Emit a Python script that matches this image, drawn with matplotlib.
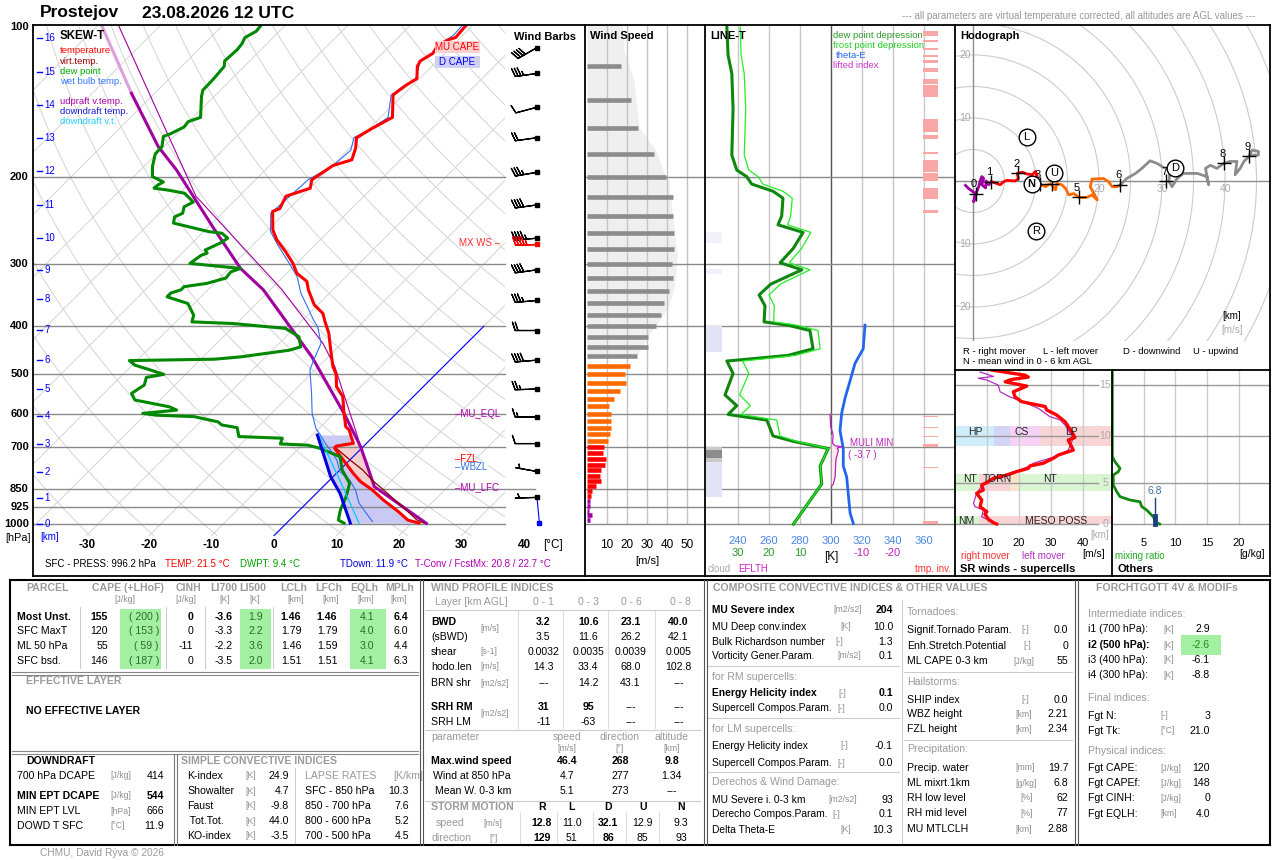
"""Prostejov sounding 23.08.2026 12 UTC: skew-T, side panels and index tables."""

import numpy as np
import matplotlib

matplotlib.use("Agg")
import matplotlib.pyplot as plt
from matplotlib.lines import Line2D
from matplotlib.patches import Rectangle, Circle

plt.rcParams["font.family"] = ["Liberation Sans", "DejaVu Sans"]

W, H = 1280, 860
SKEW = 34.6  # °C of skew per ln(p) unit

# ---------------------------------------------------------------- skew-T data
temp_p = [99, 105, 106, 109, 113, 117, 120, 127, 131, 137, 152, 154, 160, 167, 175, 185, 190, 197,
          203, 211, 219, 232, 235, 256, 268, 283, 299, 313, 325, 338, 362, 377, 392, 413, 443, 482,
          500, 529, 554, 599, 637, 647, 672, 688, 697, 704, 721, 755, 791, 822, 854, 895, 945, 982, 996]
temp_t = [-51.1, -50.8, -51.6, -52.4, -51.9, -52.7, -52.3, -50.4, -51.1, -51.6, -48.1, -48.5, -49.6,
          -50.6, -49.1, -47.8, -49.9, -50.5, -51.0, -49.9, -52.5, -51.5, -52.2, -49.2, -47.0, -43.7,
          -40.6, -38.4, -35.5, -33.9, -30.6, -27.8, -26.1, -23.7, -21.0, -17.7, -15.9, -13.9, -11.3,
          -8.4, -6.0, -4.9, -3.2, -2.1, -4.4, -4.3, -2.9, -0.1, 2.7, 5.2, 8.4, 11.8, 16.1, 18.9, 21.2]

dew_p = [99, 102, 105, 108, 111, 117, 120, 127, 134, 138, 152, 155, 159, 164, 166, 174, 180, 191, 200,
         205, 208, 211, 213, 216, 225, 230, 237, 241, 248, 258, 260, 266, 272, 281, 285, 288, 299, 306,
         311, 320, 328, 333, 338, 343, 349, 360, 380, 392, 395, 404, 420, 440, 447, 461, 466, 469, 479,
         490, 500, 507, 525, 546, 563, 581, 590, 599, 604, 608, 623, 632, 640, 667, 672, 690, 694, 704,
         732, 779, 828, 881, 937, 982, 996]
dew_t = [-83.9, -83.7, -84.5, -84.0, -83.8, -84.0, -83.2, -82.9, -82.8, -82.0, -78.8, -80.1, -79.9,
         -81.0, -81.7, -80.3, -80.2, -78.6, -77.0, -74.4, -74.8, -74.9, -72.2, -69.2, -66.4, -67.1,
         -66.3, -67.0, -66.2, -59.2, -56.8, -55.1, -55.5, -56.8, -56.0, -56.6, -57.1, -48.2, -49.2,
         -49.0, -51.2, -54.3, -54.3, -55.4, -55.4, -51.0, -48.2, -47.4, -40.6, -31.4, -27.9, -26.0,
         -27.3, -34.0, -37.8, -51.2, -49.6, -46.3, -43.5, -45.8, -44.9, -45.6, -44.0, -37.4, -35.7,
         -40.6, -38.2, -31.9, -27.2, -26.1, -23.2, -21.5, -14.3, -13.7, -9.1, -6.7, -2.1, 0.4, 3.7,
         5.3, 6.5, 7.8, 9.2]

wb_p = [99, 104, 109, 113, 117, 128, 132, 137, 152, 154, 161, 167, 177, 190, 203, 237, 258, 275, 299,
        318, 343, 368, 389, 401, 433, 468, 490, 546, 599, 642, 667, 688, 710, 743, 785, 816, 854, 908,
        952, 989]
wb_t = [-51.7, -51.5, -52.4, -52.0, -52.7, -50.4, -51.4, -51.9, -48.8, -49.0, -49.8, -51.0, -49.5,
        -49.9, -51.6, -52.2, -49.3, -45.9, -41.2, -37.8, -34.6, -31.0, -28.2, -26.5, -23.3, -21.8,
        -20.8, -16.8, -13.5, -10.5, -8.3, -6.6, -4.7, -2.1, 0.3, 3.2, 5.7, 8.4, 11.2, 13.5]

vt_p = [699, 743, 779, 816, 854, 908, 982, 996]
vt_t = [-4.6, 0.0, 3.7, 6.8, 10.2, 14.7, 20.4, 22.0]

up_p = [136, 174, 194, 252, 306, 338, 461, 599, 699, 841, 997]
up_t = [-93.7, -80.9, -74.2, -59.4, -48.2, -41.1, -22.6, -8.4, -0.4, 8.2, 22.4]
up_top_p = [99, 136]
up_top_t = [-109.5, -93.7]
up2_p = [99, 160, 219, 338, 354, 433, 482, 647, 699]
up2_t = [-106.8, -82.7, -66.9, -38.1, -35.3, -23.0, -17.4, -3.9, -0.4]

dd_p = [662, 803, 868, 996]
dd_t = [-9.2, -0.4, 3.8, 10.2]
ddv_p = [667, 803, 996]
ddv_t = [-8.6, 0.8, 11.6]

km_levels = [0, 1, 2, 3, 4, 5, 6, 7, 8, 9, 10, 11, 12, 13, 14, 15, 16]
km_press = [1000, 887, 786, 690, 606, 535, 468, 407, 353, 308, 266, 228, 195, 167, 143.5, 123, 105]

press_levels = [200, 300, 400, 500, 600, 700, 850, 925, 1000]
temp_ticks = [-30, -20, -10, 0, 10, 20, 30, 40]

barb_p = [110, 124, 145, 167, 196, 228, 266, 308, 355, 408, 468, 535, 609, 689, 784, 884]
barb_spd = [40, 35, 10, 20, 35, 40, 45, 40, 35, 20, 40, 25, 15, 10, 5, 5]
barb_dir = [240, 262, 255, 262, 260, 262, 265, 262, 265, 270, 265, 268, 270, 270, 280, 268]
mxws_p, mxws_spd, mxws_dir = 273, 46.4, 268

# ---------------------------------------------------------------- wind speed panel
ws_p = [120, 140, 160, 180, 200, 220, 240, 260, 280, 300, 320, 340, 360, 380, 400, 420, 440, 460,
        480, 500, 520, 540, 560, 580, 600, 620, 640, 660, 680, 700, 720, 740, 760, 780, 800, 820,
        840, 860, 880, 900, 920, 940, 960, 980]
ws_v = [17, 22, 25.5, 33.5, 39.5, 43, 43, 43.5, 43.5, 42.5, 43, 41, 38.5, 37, 34.5, 30.5, 30.5, 25,
        21.5, 19, 19.5, 16.5, 13.5, 11, 12, 12, 12, 11.5, 10.5,
        8.5, 8, 9.5, 9, 7, 6.5, 7, 4.5, 2.5, 2, 1.5, 1.5, 1, 2.5, 1.5]
shade_p = [99, 112, 128, 159, 176, 198, 204, 245, 284, 310, 335, 364, 401, 415, 458, 466]
shade_v = [17.5, 18.5, 23.5, 26, 34, 39, 41, 43, 45, 44.5, 43.5, 41, 34, 31, 25, 0]

# ---------------------------------------------------------------- LINE-T panel
ddep_p = [100, 114, 124, 146, 181, 194, 200, 207, 214, 221, 240, 250, 259, 279, 298, 308, 329, 346,
          364, 392, 398, 408, 444, 458, 470, 498, 550, 578, 602, 618, 665, 682, 705, 764, 831, 1000]
ddep_v = [33.6, 33.2, 32.0, 31.6, 32.0, 30.4, 27.2, 25.6, 18.7, 15.5, 15.9, 17.1, 9.0, 12.2, 16.4,
          9.4, 19.4, 23.2, 21.3, 21.6, 14.0, 6.8, 5.8, 14.0, 33.6, 31.6, 34.2, 30.4, 33.2, 20.7,
          18.7, 12.1, 0.9, 3.5, 3.0, 12.1]
fdep_v = [29.3, 29.0, 28.0, 27.5, 28.0, 26.5, 23.5, 22.0, 15.5, 12.5, 13.0, 14.0, 6.5, 9.5, 13.5,
          6.8, 16.3, 20.0, 18.3, 18.5, 11.0, 4.2, 3.5, 11.5, 28.5, 26.5, 29.5, 26.0, 29.0, 17.5,
          16.5, 11.0, 0.9, 3.5, 3.0, 12.1]
the_p = [398, 444, 475, 515, 559, 598, 649, 705, 764, 804, 874, 950, 998]
the_v = [321.9, 320.8, 315.5, 312.3, 309.0, 306.9, 305.8, 307.9, 307.9, 310.1, 311.2, 312.3, 314.4]
li_p = [602, 638, 660, 688, 696, 699, 703, 711, 741, 805, 832, 838]
li_v = [0.3, 0.1, -0.7, -0.5, -1.3, -3.7, -2.0, -2.4, -1.6, -1.3, -0.7, -0.2]
cloud_top = [259, 307, 400, 699, 711, 735, 750]
cloud_bot = [272, 314, 451, 711, 735, 750, 882]
cloud_col = ["#f1f1fc", "#f1f1fc", "#e3e3f8", "#c9c9c9", "#8c8c8c", "#c9c9c9", "#e3e3f8"]
inv_top = [102, 106, 110, 114, 116.5, 121, 127, 131, 153, 165, 178.5, 185, 197, 211, 233,
           605, 638, 665, 691, 768, 986]
inv_bot = [104, 107, 111, 115, 118, 123, 130, 138, 163, 168, 179.7, 196, 204, 222, 237,
           608, 641, 668, 700, 771, 1000]

# ---------------------------------------------------------------- hodograph [m/s]
hodo_u = {
    "purple": [-1.2, -0.7, 0.4, 0.1, 0.6, 0.9, 1.2, 1.4, 1.7, 1.4, 2.0, 2.1, 2.5, 2.9],
    "red": [2.9, 4.3, 4.9, 5.4, 6.7, 7.2, 7.0, 7.8, 8.6, 9.4, 9.9, 10.2, 9.6, 10.6],
    "orange": [10.6, 11.5, 12.3, 13.1, 13.3, 14.1, 14.7, 15.2, 16.0, 16.8, 18.1, 18.9, 19.7, 19.2,
               18.6, 18.9, 20.7, 21.5, 22.1, 22.9, 23.4],
    "gray": [23.4, 24.4, 25.8, 26.8, 28.1, 29.2, 30.3, 31.3, 31.1, 31.6, 32.4, 33.4, 35.6, 37.1, 37.4,
             36.9, 37.7, 38.7, 39.8, 40.8, 41.9, 41.6, 42.4, 43.0, 43.8, 44.3, 45.3, 45.3, 44.0],
}
hodo_v = {
    "purple": [-0.7, -1.2, -2.0, -3.3, -1.7, -0.9, 0.2, 0.7, 0.4, -0.6, -1.1, 0.0, -0.6, -0.1],
    "red": [-0.1, -0.6, -0.1, 0.1, 0.0, 0.4, 1.2, 1.4, 1.1, 1.0, 1.5, 0.8, 0.4, -0.5],
    "orange": [-0.5, -0.9, -0.4, -1.4, -0.4, -0.6, -1.2, -2.2, -2.0, -2.6, -2.6, -2.2, -3.0, -2.0,
               -0.9, 0.3, 0.4, -0.1, -0.9, -0.9, -0.6],
    "gray": [-0.6, 0.4, 1.2, 2.0, 3.2, 2.8, 2.1, 1.9, -0.1, -0.9, 0.4, 1.2, 1.2, 0.7, -0.6,
             2.0, 2.5, 2.0, 2.8, 3.1, 3.1, 1.0, 2.0, 3.1, 3.9, 4.9, 4.7, 4.1, 4.1],
}
hodo_colors = {"purple": "#a000a0", "red": "#ff0000", "orange": "#ff6a00", "gray": "#8c8c8c"}
hodo_ring_ticks = [20, 30, 40]  # the 10 label sits under the N circle in the original
hmark_km = [0, 1, 2, 3, 4, 5, 6, 7, 8, 9]
hmark_u = [0.4, 2.9, 7.2, 10.6, 12.5, 16.8, 23.4, 30.7, 39.9, 43.8]
hmark_v = [-2.0, -0.1, 1.2, -0.5, -0.5, -2.6, -0.6, 0.0, 2.8, 3.9]
hmark_hidden = [4]  # label covered by the U circle in the original
motion_lbl = ["R", "L", "D", "U", "N"]
motion_u = [10.0, 8.5, 32.1, 12.9, 9.3]
motion_v = [-7.9, 7.0, 2.1, 1.2, -0.5]

# ---------------------------------------------------------------- SR winds / others
rm_p = [98, 102, 106, 109, 113, 117, 125, 136, 147, 158, 170, 179, 193, 214, 249, 271, 282, 328,
        353, 371, 400, 417, 432, 454, 478, 502, 536, 555, 599, 629, 696, 770, 830, 860, 931, 980, 1000]
rm_v = [11.3, 16.6, 21.9, 22.9, 17.7, 15.6, 22.4, 18.2, 18.7, 20.8, 28.2, 28.7, 31.8, 34.5, 36.6,
        37.6, 35.5, 37.1, 32.4, 30.8, 27.6, 23.4, 22.9, 19.2, 16.1, 11.9, 9.8, 8.2, 8.7, 6.6, 8.2,
        7.7, 9.8, 9.2, 10.3, 11.9, 12.9]
lm_p = [101, 108, 111, 114, 123, 136, 147, 162, 175, 198, 208, 225, 255, 274, 328, 353, 371, 400,
        425, 454, 478, 515, 541, 584, 629, 732, 770, 810, 896, 931, 980]
lm_v = [7.7, 11.9, 7.1, 9.8, 13.4, 14.0, 17.1, 22.4, 26.1, 29.7, 32.9, 34.5, 36.1, 37.1, 35.5,
        32.9, 29.7, 24.5, 22.4, 18.7, 15.0, 10.8, 8.7, 7.7, 6.6, 5.6, 6.1, 8.7, 8.2, 9.8, 11.4]
mixr_p = [98, 362, 391, 432, 454, 478, 555, 614, 662, 696, 715, 770, 810, 851, 896, 941, 980, 1000]
mixr_v = [0.05, 0.05, 0.47, 1.26, 1.0, 0.2, 0.2, 0.74, 1.26, 2.83, 4.4, 4.7, 5.46, 5.98, 6.5,
          6.77, 7.0, 7.5]
ml_mixr_1km = 6.8
sr_bands = [
    (9, 11, [(0, 12, "#cdeefa"), (12, 17, "#d4d4f6"), (17, 27, "#f6d2f6"), (27, 50, "#f8d4d4")]),
    (4, 6, [(0, 7.4, "#d8f6d2"), (7.4, 17, "#f8d4d4"), (17, 20, "#fbe6cc"), (20, 50, "#d8f6d2")]),
    (0, 1, [(0, 7.4, "#d8f6d2"), (7.4, 50, "#f8d4d4")]),
]

# ---------------------------------------------------------------- tables
parcel_rows = [
    ("Most Unst.", "155", "( 200 )", "0", "-3.6", "1.9", "1.46", "1.46", "4.1", "6.4"),
    ("SFC MaxT", "120", "( 153 )", "0", "-3.3", "2.2", "1.79", "1.79", "4.0", "6.0"),
    ("ML 50 hPa", "55", "( 59 )", "-11", "-2.2", "3.6", "1.46", "1.59", "3.0", "4.4"),
    ("SFC bsd.", "146", "( 187 )", "0", "-3.5", "2.0", "1.51", "1.51", "4.1", "6.3"),
]
downdraft_rows = [("700 hPa DCAPE", "[J/kg]", "414", False), ("MIN EPT DCAPE", "[J/kg]", "544", True),
                  ("MIN EPT LVL", "[hPa]", "666", False), ("DOWD T SFC", "[°C]", "11.9", False)]
simple_rows = [("K-index", "24.9"), ("Showalter", "4.7"), ("Faust", "-9.8"), (" Tot.Tot.", "44.0"),
               ("KO-index", "-3.5")]
lapse_rows = [("SFC - 850 hPa", "10.3"), ("850 - 700 hPa", "7.6"), ("800 - 600 hPa", "5.2"),
              ("700 - 500 hPa", "4.5")]
bwd_rows = [
    ("BWD", "", ("3.2", "10.6", "23.1", "40.0"), True),
    ("(sBWD)", "", ("3.5", "11.6", "26.2", "42.1"), False),
    ("shear", "[s-1]", ("0.0032", "0.0035", "0.0039", "0.005"), False),
    ("hodo.len", "[m/s]", ("14.3", "33.4", "68.0", "102.8"), False),
    ("BRN shr", "[m2/s2]", ("---", "14.2", "43.1", "---"), False),
    ("SRH RM", "", ("31", "95", "---", "---"), True),
    ("SRH LM", "", ("-11", "-63", "---", "---"), False),
]
wind_param_rows = [("Max.wind speed", ("46.4", "268", "9.8"), True),
                   ("Wind at 850 hPa", ("4.7", "277", "1.34"), False),
                   ("Mean W. 0-3 km", ("5.1", "273", "---"), False)]
storm_speed = ["12.8", "11.0", "32.1", "12.9", "9.3"]
storm_dir = ["129", "51", "86", "85", "93"]
comp_left = [
    ("MU Severe index", "[m2/s2]", "204", 610, True), ("MU Deep conv.index", "[K]", "10.0", 626.7, False),
    ("Bulk Richardson number", "[-]", "1.3", 641.7, False),
    ("Vorticity Gener.Param.", "[m/s2]", "0.1", 656, False),
    ("Energy Helicity index", "[-]", "0.1", 693.3, True),
    ("Supercell Compos.Param.", "[-]", "0.0", 708.3, False),
    ("Energy Helicity index", "[-]", "-0.1", 746, False),
    ("Supercell Compos.Param.", "[-]", "0.0", 763.3, False),
    ("MU Severe i. 0-3 km", "[m2/s2]", "93", 800, False),
    ("Derecho Compos.Param.", "[-]", "0.1", 814.3, False), ("Delta Theta-E", "[K]", "10.3", 830, False),
]
comp_left_unit_x = [833, 840, 835, 837, 838, 837, 840, 837, 828, 832, 840]
comp_left_heads = [("for RM supercells:", 676.7), ("for LM supercells:", 729), ("Derechos & Wind Damage:", 781.7)]
comp_right = [
    ("Signif.Tornado Param.", "[-]", "0.0", 630, 1021), ("Enh.Stretch.Potential", "[-]", "0", 645.7, 1023),
    ("ML CAPE 0-3 km", "[J/kg]", "55", 661, 1013), ("SHIP index", "[-]", "0.0", 700, 1021),
    ("WBZ height", "[km]", "2.21", 714.3, 1015), ("FZL height", "[km]", "2.34", 729, 1015),
    ("Precip. water", "[mm]", "19.7", 767.7, 1015), ("ML mixrt.1km", "[g/kg]", "6.8", 783.3, 1015),
    ("RH low level", "[%]", "62", 797.7, 1020), ("RH mid level", "[%]", "77", 813.3, 1020),
    ("MU MTLCLH", "[km]", "2.88", 829, 1015),
]
comp_right_heads = [("Tornadoes:", 612.3), ("Hailstorms:", 681.7), ("Precipitation:", 749)]
fgt_rows = [("i1 (700 hPa):", "[K]", "2.9", 629.3, False), ("i2 (500 hPa):", "[K]", "-2.6", 645, True),
            ("i3 (400 hPa):", "[K]", "-6.1", 660, False), ("i4 (300 hPa):", "[K]", "-8.8", 675, False),
            ("Fgt N:", "[-]", "3", 715.7, False), ("Fgt Tk:", "[°C]", "21.0", 730.7, False),
            ("Fgt CAPE:", "[J/kg]", "120", 768.3, False), ("Fgt CAPEf:", "[J/kg]", "148", 783.3, False),
            ("Fgt CINH:", "[J/kg]", "0", 798.3, False), ("Fgt EQLH:", "[km]", "4.0", 814, False)]
fgt_heads = [("Intermediate indices:", 614.3), ("Final indices:", 697.7), ("Physical indices:", 751)]

GRAY = "#9a9a9a"
UNIT = "#8c8c8c"
GREEN_BOX = "#a3f0a3"

fig = plt.figure(figsize=(12.8, 8.6), dpi=100)
fig.patch.set_facecolor("white")


def px_axes(x0, y0, x1, y1):
    a = fig.add_axes([x0 / W, 1 - y1 / H, (x1 - x0) / W, (y1 - y0) / H])
    for s in a.spines.values():
        s.set_visible(False)
    a.tick_params(which="both", left=False, bottom=False, labelleft=False, labelbottom=False)
    a.set_facecolor("none")
    return a


def ftext(x, y, s, **kw):
    kw.setdefault("va", "center")
    kw.setdefault("fontsize", 7.6)
    return fig.text(x / W, 1 - y / H, s, **kw)


def fline(x0, y0, x1, y1, color="black", lw=1.0):
    fig.add_artist(Line2D([x0 / W, x1 / W], [1 - y0 / H, 1 - y1 / H], color=color, lw=lw,
                          transform=fig.transFigure, zorder=10))


def frect(x0, y0, x1, y1, color):
    fig.add_artist(Rectangle((x0 / W, 1 - y1 / H), (x1 - x0) / W, (y1 - y0) / H, color=color,
                             lw=0, transform=fig.transFigure, zorder=0.5))


def skx(t, p):
    return np.asarray(t, dtype=float) + SKEW * np.log(1000.0 / np.asarray(p, dtype=float))


def interp_p(p_new, p_src, v_src):
    order = np.argsort(p_src)
    return np.interp(np.log(p_new), np.log(np.asarray(p_src, float)[order]),
                     np.asarray(v_src, float)[order])


def km_to_p(km):
    return np.exp(np.interp(km, km_levels, np.log(km_press)))


# ================================================================ skew-T
P_TOP, P_BOT = 99.06, 1278.4
ax = px_axes(33, 25, 585, 577)
ax.set_yscale("log")
ax.set_ylim(P_BOT, P_TOP)
ax.set_xlim(-40.43, 47.89)
ax.tick_params(which="both", left=False, bottom=False, labelleft=False, labelbottom=False)
clip = Rectangle((0, 0), (505 - 33) / 552, 1, transform=ax.transAxes)

p_iso = np.array([1055.0, P_TOP])
for t0 in range(-130, 40, 10):
    ln, = ax.plot(skx(t0, p_iso), p_iso, color="#d4d4d4", lw=0.7, zorder=1)
    ln.set_clip_path(clip)
p_ad = np.geomspace(1055, P_TOP, 60)
for th in range(240, 450, 10):
    ln, = ax.plot(skx(th * (p_ad / 1000) ** 0.286 - 273.15, p_ad), p_ad, color="#d4d4d4", lw=0.7, zorder=1)
    ln.set_clip_path(clip)

for p in press_levels:
    right = 39.9 if p == 850 else 35.1
    ax.plot([-40.43, right], [p, p], color="#8a8a8a", lw=1.0, zorder=3)
ax.plot(skx([0, 0], [1055, 400]), [1055, 400], color="#0000ff", lw=0.8, zorder=3)

# DCAPE and CAPE areas
pg = np.geomspace(662, 996, 80)
ax.fill_betweenx(pg, skx(interp_p(pg, dd_p, dd_t), pg), skx(interp_p(pg, temp_p, temp_t), pg),
                 color="#c9c9f3", lw=0, zorder=2)
pg2 = np.geomspace(690, 845, 60)
env2 = interp_p(pg2, temp_p, temp_t)
par2 = interp_p(pg2, up_p, up_t)
ax.fill_betweenx(pg2, skx(env2, pg2), skx(par2, pg2), where=par2 > env2,
                 color="#f6c9c9", alpha=0.9, lw=0, zorder=2.2)

ax.plot(skx(up_top_t, up_top_p), up_top_p, color="#dd9fdd", lw=2.2, zorder=4)
ax.plot(skx(up_t, up_p), up_p, color="#a000a0", lw=2.2, zorder=4)
ax.plot(skx(up2_t, up2_p), up2_p, color="#a000a0", lw=0.8, zorder=4)
ax.plot(skx(wb_t, wb_p), wb_p, color="#2f6fef", lw=0.8, zorder=5)
ax.plot(skx(vt_t, vt_p), vt_p, color="#8b0000", lw=0.9, zorder=5)
ax.plot(skx(temp_t, temp_p), temp_p, color="#ff0000", lw=2.2, zorder=6)
ax.plot(skx(dew_t, dew_p), dew_p, color="#008800", lw=2.2, zorder=6)
ax.plot(skx(ddv_t, ddv_p), ddv_p, color="#00ccff", lw=0.9, zorder=6)
ax.plot(skx(dd_t, dd_p), dd_p, color="#0000dd", lw=2.2, zorder=6)

# wind barbs
BX = 40.2
bd = np.radians(barb_dir)
bu = -np.array(barb_spd) * np.sin(bd)
bv = -np.array(barb_spd) * np.cos(bd)
barb_sizes = dict(height=0.38, spacing=0.13, width=0.25)
ax.barbs(np.full(len(barb_p), BX), barb_p, bu, bv, length=5.6, linewidth=0.9, color="black",
         sizes=barb_sizes, zorder=7)
md = np.radians(mxws_dir)
ax.barbs([BX], [mxws_p], [-mxws_spd * np.sin(md)], [-mxws_spd * np.cos(md)], length=5.6,
         linewidth=1.0, color="#ff0000", sizes=barb_sizes, zorder=7)
ax.plot(np.full(len(barb_p), BX), barb_p, "s", ms=2.3, color="black", zorder=8)
ax.plot([BX], [mxws_p], "s", ms=2.3, color="#ff0000", zorder=8)
ax.plot([BX, BX + 0.4], [barb_p[-1], 996], color="#0000ff", lw=0.8, zorder=7)
ax.plot([BX + 0.4], [996], "s", ms=2.5, color="#0000ff", zorder=8)

# km ticks and pressure / temperature labels
for km, p in zip(km_levels, km_press):
    ax.plot([-39.8, -39.0], [p, p], color="#0000ff", lw=1.0, zorder=7)
    ax.text(-38.6, p, str(km), color="#0000ff", fontsize=7, va="center", ha="left", zorder=7)
for p in [100] + press_levels:
    ax.text(-0.0075, p, str(p), transform=ax.get_yaxis_transform(), ha="right", va="center",
            fontsize=8, fontweight="bold")
for t in temp_ticks:
    ax.text(skx(t, 1055), 1100, str(t), ha="center", va="center", fontsize=8.5, fontweight="bold")

ftext(18, 538, "[hPa]", fontsize=7.8, ha="center")
ftext(50, 537, "[km]", fontsize=7, ha="center", color="#0000ff")
ftext(553, 545, "[°C]", fontsize=8.5, ha="center")

ftext(60, 36, "SKEW-T", fontsize=8.3, fontweight="bold")
for txt, yy, col in [("temperature", 50.7, "#ff0000"), ("virt.temp.", 61, "#990000"),
                     ("dew point", 71, "#00aa00"), ("wet bulb temp.", 81, "#3377ff"),
                     ("udpraft v.temp.", 101, "#aa00aa"), ("downdraft temp.", 111, "#1a1acc"),
                     ("downdraft v.t.", 121, "#22ccff")]:
    ftext(60, yy, txt, fontsize=6.8, color=col)
frect(435, 41, 480, 53, "#fbd0d0")
frect(435, 56, 480, 68, "#d0d0f6")
ftext(457, 47, "MU CAPE", fontsize=7, color="#ff0000", ha="center")
ftext(457, 62, "D CAPE", fontsize=7, color="#0000ee", ha="center")
ftext(514, 37, "Wind Barbs", fontsize=8, fontweight="bold")
ftext(500, 243, "MX WS –", fontsize=7, color="#ff3030", ha="right")
ftext(455, 414, "–MU_EQL", fontsize=7, color="#b000b0")
ftext(455, 459, "–FZL", fontsize=7, color="#ff0000")
wbzl = ftext(455, 467, "–WBZL", fontsize=7, color="#3070e0")
wbzl.set_bbox(dict(facecolor="white", edgecolor="none", pad=0.3))
wbzl.set_zorder(11)
ftext(455, 487, "–MU_LFC", fontsize=7, color="#b000b0")

ftext(45, 564, "SFC - PRESS: 996.2 hPa", fontsize=7)
ftext(165, 564, "TEMP: 21.5 °C", fontsize=7, color="#ff0000")
ftext(240, 564, "DWPT: 9.4 °C", fontsize=7, color="#00a000")
ftext(340, 564, "TDown: 11.9 °C", fontsize=7, color="#0000dd")
ftext(415, 564, "T-Conv / FcstMx: 20.8 / 22.7 °C", fontsize=7, color="#b000b0")

# ================================================================ wind speed
aws = px_axes(585, 25, 705, 577)
aws.set_yscale("log")
aws.set_ylim(P_BOT, P_TOP)
aws.set_xlim(-1, 59)
aws.tick_params(which="both", left=False, bottom=False, labelleft=False, labelbottom=False)
aws.fill_betweenx(shade_p, 0, shade_v, color="#efefef", lw=0, zorder=1)
aws.vlines([10, 20, 30, 40, 50], 1000, P_TOP, color="#c4c4c4", lw=1.0, zorder=2)
aws.hlines(press_levels, -1, 59, color="#8a8a8a", lw=1.0, zorder=2)
ws_col = ["#8c8c8c" if p <= 460 else "#ff6a00" if p <= 680 else "#ff0000" if p <= 880 else "#a000a0"
          for p in ws_p]
aws.hlines(ws_p, 0, ws_v, colors=ws_col, lw=3.3, zorder=3)
for v in [10, 20, 30, 40, 50]:
    aws.text(v, 1102, str(v), ha="center", va="center", fontsize=8.5)
ftext(590, 36, "Wind Speed", fontsize=8, fontweight="bold")
ftext(647, 561, "[m/s]", fontsize=8, ha="center")

# ================================================================ LINE-T
alt = px_axes(705, 25, 955, 577)
alt.set_yscale("log")
alt.set_ylim(P_BOT, P_TOP)
alt.set_xlim(218.7, 380.0)
alt.tick_params(which="both", left=False, bottom=False, labelleft=False, labelbottom=False)
alt.vlines([240, 260, 280, 320, 340, 360], 1000, P_TOP, color="#c8c8c8", lw=1.0, zorder=1)
alt.vlines([300], 1000, P_TOP, color="#555555", lw=1.0, zorder=1)
alt.hlines(press_levels, 218.7, 380, color="#8a8a8a", lw=1.0, zorder=1)
for pt, pb, c in zip(cloud_top, cloud_bot, cloud_col):
    alt.fill_betweenx([pt, pb], 219.3, 229.6, color=c, lw=0, zorder=2)
for pt, pb in zip(inv_top, inv_bot):
    alt.fill_betweenx([pt, pb], 359.4, 369.0, color="#f8a6a6", lw=0, zorder=2)
li_k = 300 - 2 * np.array(li_v)
alt.fill_betweenx(li_p, 300, li_k, where=np.array(li_v) < 0, color="#fbe9e9", lw=0, zorder=2)
alt.plot(300 - 2 * np.array(fdep_v), ddep_p, color="#22ee22", lw=0.9, zorder=4)
alt.plot(300 - 2 * np.array(ddep_v), ddep_p, color="#0f870f", lw=2.2, zorder=3)
alt.plot(the_v, the_p, color="#2266ee", lw=2.0, zorder=4)
alt.plot(li_k, li_p, color="#bb22bb", lw=0.9, zorder=5)
for k in [240, 260, 280, 300, 320, 340, 360]:
    alt.text(k, 1082, str(k), ha="center", va="center", fontsize=8, color="#4a86e8")
for d, col in [(30, "#2a9a2a"), (20, "#2a9a2a"), (10, "#2a9a2a"), (-10, "#bb22bb"), (-20, "#bb22bb")]:
    alt.text(300 - 2 * d, 1144, str(d), ha="center", va="center", fontsize=8, color=col)
ftext(831, 557, "[K]", fontsize=8.5, ha="center")
ftext(710, 36, "LINE-T", fontsize=8, fontweight="bold")
ftext(833, 36, "dew point depression", fontsize=6.8, color="#2a9a2a")
ftext(833, 46, "frost point depression", fontsize=6.8, color="#22cc22")
ftext(836, 56, "theta-E", fontsize=6.8, color="#2266ee")
ftext(833, 66, "lifted index", fontsize=6.8, color="#cc33cc")
ftext(850, 443, "MULI MIN", fontsize=7, color="#bb22bb")
ftext(848, 455, "( -3.7 )", fontsize=7, color="#bb22bb")
ftext(708, 569, "cloud", fontsize=7, color="#aaaaaa")
ftext(738, 569, "EFLTH", fontsize=7, color="#cc22cc")
ftext(951, 569, "tmp. inv.", fontsize=7, color="#ff3030", ha="right")

# ================================================================ hodograph
aho = px_axes(955, 25, 1270, 341)
aho.set_xlim(-2.86, 47.14)
aho.set_ylim(-25.4, 24.76)
for r in range(5, 55, 5):
    aho.add_patch(Circle((0, 0), r, fill=False, ec="#cccccc", lw=0.8, zorder=1))
aho.axhline(0, color="#8c8c8c", lw=1.0, zorder=1)
aho.axvline(0, color="#8c8c8c", lw=1.0, zorder=1)
for v in [20, 10, -10, -20]:
    aho.text(-1.3, v, str(abs(v)), ha="center", va="center", fontsize=7.5, color="#aaaaaa", zorder=2)
for u in hodo_ring_ticks:
    aho.text(u, -1.3, str(u), ha="center", va="center", fontsize=7.5, color="#aaaaaa", zorder=2)
for key in ["purple", "red", "orange", "gray"]:
    aho.plot(hodo_u[key], hodo_v[key], color=hodo_colors[key], lw=2.0, zorder=3)
aho.plot(hmark_u, hmark_v, "+", color="black", ms=10, mew=1.0, zorder=4)
for k, u, v in zip(hmark_km, hmark_u, hmark_v):
    if k in hmark_hidden:
        continue
    aho.text(u - 0.3, v + 1.5, str(k), ha="center", va="center", fontsize=8, zorder=4)
for lbl, u, v in zip(motion_lbl, motion_u, motion_v):
    aho.plot(u, v, "o", ms=12, mfc="white", mec="black", mew=1.0, zorder=5)
    aho.text(u, v, lbl, ha="center", va="center", fontsize=8,
             fontweight="bold" if lbl == "N" else "normal", zorder=6)
ftext(960, 36, "Hodograph", fontsize=8, fontweight="bold")
ftext(1232, 316, "[km]", fontsize=7, ha="center")
ftext(1232, 330, "[m/s]", fontsize=7, ha="center", color="#aaaaaa")
ftext(963, 351, "R - right mover", fontsize=6.8)
ftext(1043, 351, "L - left mover", fontsize=6.8)
ftext(1123, 351, "D - downwind", fontsize=6.8)
ftext(1193, 351, "U - upwind", fontsize=6.8)
ftext(963, 362, "N - mean wind in 0 - 6 km AGL", fontsize=6.8)

# ================================================================ SR winds & others
SR_TOP, SR_BOT = 98.0, 2224.0
asr = px_axes(955, 370, 1112, 577)
asr.set_yscale("log")
asr.set_ylim(SR_BOT, SR_TOP)
asr.set_xlim(-0.22, 49.3)
asr.tick_params(which="both", left=False, bottom=False, labelleft=False, labelbottom=False)
for k0, k1, segs in sr_bands:
    for s0, s1, c in segs:
        asr.fill_between([s0, s1], km_to_p(k0), km_to_p(k1), color=c, lw=0, zorder=1)
asr.vlines([10, 20, 30, 40], 1000, SR_TOP, color="#cccccc", lw=1.0, zorder=2)
for km in [0, 5, 10, 15]:
    asr.plot([-0.22, 44.9], [km_to_p(km)] * 2, color="#999999", lw=1.0, zorder=2)
    asr.text(47.1, km_to_p(km), str(km), ha="center", va="center", fontsize=7.5, color="#aaaaaa")
asr.plot(lm_v, lm_p, color="#b030c0", lw=0.9, zorder=3)
asr.plot(rm_v, rm_p, color="#ff0000", lw=2.4, zorder=4)
for v in [10, 20, 30, 40]:
    asr.text(v, 1332, str(v), ha="center", va="center", fontsize=8)
for txt, xx, yy in [("HP", 975, 432), ("CS", 1022, 432), ("LP", 1071, 432), ("NT", 970, 479),
                    ("TORN", 997, 479), ("NT", 1050, 479), ("NM", 966, 521), ("MESO POSS", 1056, 521)]:
    ftext(xx, yy, txt, fontsize=7.5, ha="center", color="#222222")
ftext(1100, 535, "[km]", fontsize=7, ha="center", color="#aaaaaa")
ftext(1094, 554, "[m/s]", fontsize=7.5, ha="center")
ftext(985, 556, "right mover", fontsize=7, ha="center", color="#ff3030")
ftext(1043, 556, "left mover", fontsize=7, ha="center", color="#b030c0")
ftext(960, 569, "SR winds - supercells", fontsize=8, fontweight="bold")

aot = px_axes(1112, 370, 1270, 577)
aot.set_yscale("log")
aot.set_ylim(SR_BOT, SR_TOP)
aot.set_xlim(0, 24.9)
aot.tick_params(which="both", left=False, bottom=False, labelleft=False, labelbottom=False)
aot.vlines([5, 10, 15, 20], 1000, SR_TOP, color="#cccccc", lw=1.0, zorder=1)
for km in [0, 5, 10, 15]:
    aot.plot([0, 24.9], [km_to_p(km)] * 2, color="#999999", lw=1.0, zorder=2)
aot.plot(mixr_v, mixr_p, color="#128a12", lw=2.0, zorder=3)
aot.plot([ml_mixr_1km] * 2, [km_to_p(0), km_to_p(1)], color="#1d3f80", lw=3.5, zorder=4)
aot.plot([ml_mixr_1km] * 2, [km_to_p(1), km_to_p(3.2)], color="#1d3f80", lw=1.0, zorder=4)
aot.text(ml_mixr_1km, km_to_p(4.0), f"{ml_mixr_1km:.1f}", ha="center", va="center", fontsize=7.5,
         color="#3a6ea5", zorder=4)
for v in [5, 10, 15, 20]:
    aot.text(v, 1332, str(v), ha="center", va="center", fontsize=8)
ftext(1252, 554, "[g/kg]", fontsize=7.5, ha="center")
ftext(1140, 556, "mixing ratio", fontsize=7, ha="center", color="#22aa22")
ftext(1118, 569, "Others", fontsize=8, fontweight="bold")

# ================================================================ frames
fline(33, 25, 1270, 25, lw=1.3)
fline(33, 25, 33, 576, lw=1.3)
fline(1270, 25, 1270, 576, lw=1.3)
fline(33, 576, 1270, 576, lw=1.3)
for xx in [585, 705, 955]:
    fline(xx, 25, xx, 576, lw=1.3)
fline(955, 370, 1270, 370, lw=1.3)
fline(1112, 370, 1112, 576, lw=1.3)

# ================================================================ title
ftext(40, 13, "Prostejov", fontsize=12.5, fontweight="bold")
ftext(142, 13, "23.08.2026 12 UTC", fontsize=12.5, fontweight="bold")
ftext(1255, 16, "--- all parameters are virtual temperature corrected, all altitudes are AGL values ---",
      fontsize=7, color="#999999", ha="right")

# ================================================================ tables
fline(10, 580, 1270, 580, lw=1.5)
fline(10, 845, 1270, 845, lw=1.5)
fline(10, 580, 10, 845, lw=1.5)
fline(1270, 580, 1270, 845, lw=1.5)
for xx in [420, 704, 1075]:
    fline(xx, 580, xx, 845, color="#555555", lw=0.8)
    fline(xx + 3, 580, xx + 3, 845, color="#555555", lw=0.8)

# parcel block
for txt, xx, ha in [("PARCEL", 26, "left"), ("CAPE (+LHoF)", 128, "center"), ("CINH", 189, "center"),
                    ("LI700", 224, "center"), ("LI500", 253, "center"), ("LCLh", 294, "center"),
                    ("LFCh", 329, "center"), ("EQLh", 364, "center"), ("MPLh", 400, "center")]:
    ftext(xx, 588, txt, color=GRAY, fontweight="bold", ha=ha)
for txt, xx in [("[J/kg]", 125), ("[J/kg]", 186), ("[K]", 225), ("[K]", 255), ("[km]", 296),
                ("[km]", 331), ("[km]", 366), ("[km]", 399)]:
    ftext(xx, 599, txt, color=UNIT, fontsize=6.2, ha="center")
for xx in [80, 166, 205, 273]:
    fline(xx, 607, xx, 668, color="#cccccc", lw=0.8)
for i, (row, yy) in enumerate(zip(parcel_rows, [616.7, 631, 646, 661])):
    fw = "bold" if i == 0 else "normal"
    frect(120, yy - 7.5, 161, yy + 7.5, GREEN_BOX)
    frect(240, yy - 7.5, 271, yy + 7.5, GREEN_BOX)
    frect(350, yy - 7.5, 386, yy + 7.5, GREEN_BOX)
    name, cape, lhof, cinh, li7, li5, lcl, lfc, eql, mpl = row
    ftext(17, yy, name, fontweight=fw)
    ftext(108, yy, cape, fontweight=fw, ha="right")
    ftext(159, yy, lhof, ha="right", color="#2b6b2b")
    ftext(193, yy, cinh, fontweight=fw, ha="right")
    ftext(233, yy, li7, fontweight=fw, ha="right")
    ftext(256, yy, li5, ha="center", color="#2b6b2b")
    ftext(291, yy, lcl, fontweight=fw, ha="center")
    ftext(327, yy, lfc, fontweight=fw, ha="center")
    ftext(367, yy, eql, ha="center", color="#2b6b2b")
    ftext(401, yy, mpl, fontweight=fw, ha="center")
for yy in [672, 751]:
    fline(12, yy, 418, yy, color="#888888", lw=0.8)
    fline(12, yy + 2.5, 418, yy + 2.5, color="#888888", lw=0.8)
ftext(26, 681, "EFFECTIVE LAYER", color=GRAY, fontweight="bold")
ftext(26, 711, "NO EFFECTIVE LAYER", fontweight="bold")

# downdraft / simple indices / lapse rates
ftext(26, 761, "DOWNDRAFT", fontweight="bold")
for (name, unit, val, bold), yy in zip(downdraft_rows, [776, 796, 811, 826]):
    ftext(17, yy, name, fontweight="bold" if bold else "normal")
    ftext(110, yy, unit, color=UNIT, fontsize=6.2)
    ftext(164, yy, val, ha="right", fontweight="bold" if bold else "normal")
fline(174, 754, 174, 845, color="#777777", lw=0.8)
fline(177, 754, 177, 845, color="#777777", lw=0.8)
ftext(181, 761, "SIMPLE CONVECTIVE INDICES", color=GRAY, fontweight="bold")
for (name, val), yy in zip(simple_rows, [776, 791, 806, 821, 836]):
    ftext(187, yy, name)
    ftext(245, yy, "[K]", color=UNIT, fontsize=6.2)
    ftext(289, yy, val, ha="right")
fline(295, 768, 295, 843, color="#cccccc", lw=0.8)
ftext(305, 776, "LAPSE RATES", color=GRAY)
ftext(393, 776, "[K/km]", color=GRAY)
for (name, val), yy in zip(lapse_rows, [791, 806, 821, 836]):
    ftext(305, yy, name)
    ftext(409, yy, val, ha="right")
ftext(40, 853, "CHMU, David Rýva © 2026", color="#999999", fontsize=7.3)

# wind profile block
ftext(431, 588, "WIND PROFILE INDICES", color=GRAY, fontweight="bold")
ftext(435, 602, "Layer [km AGL]", color=GRAY)
col_x = [543.3, 588.3, 630.5, 678.3]
for txt, xx in zip(["0 - 1", "0 - 3", "0 - 6", "0 - 8"], [543.3, 588.3, 631.7, 680]):
    ftext(xx, 602, txt, color=GRAY, ha="center")
fline(425, 609.5, 700, 609.5, color="#cccccc", lw=0.8)
for xx in [518.3, 562.7, 608.3, 655]:
    fline(xx, 611, xx, 728, color="#dddddd", lw=0.8)
for (name, unit, vals, bold), yy in zip(bwd_rows, [621.7, 636.7, 651.7, 666.7, 683.3, 706.7, 721.7]):
    ftext(431, yy, name, fontweight="bold" if bold else "normal")
    if unit:
        ftext(480, yy, unit, color=UNIT, fontsize=6.2)
    for j, (xx, v) in enumerate(zip(col_x, vals)):
        vb = bold and (name == "BWD" or j < 2)
        ftext(xx, yy, v, ha="center", fontweight="bold" if vb else "normal")
ftext(480, 628.5, "[m/s]", color=UNIT, fontsize=6.2)
ftext(480, 714, "[m2/s2]", color=UNIT, fontsize=6.2)
fline(425, 730, 700, 730, color="#cccccc", lw=0.8)
ftext(431, 737, "parameter", color=GRAY)
for txt, unit, xx in [("speed", "[m/s]", 566.7), ("direction", "[°]", 620), ("altitude", "[km]", 671.7)]:
    ftext(xx, 737, txt, color=GRAY, ha="center")
    ftext(xx, 748.5, unit, color=UNIT, fontsize=6.2, ha="center")
for (name, vals, bold), yy, xx0 in zip(wind_param_rows, [761, 776, 791], [431, 433, 435]):
    ftext(xx0, yy, name, fontweight="bold" if bold else "normal")
    for xx, v in zip([566.7, 620, 671.7], vals):
        ftext(xx, yy, v, ha="center", fontweight="bold" if bold else "normal")
fline(425, 801, 700, 801, color="#cccccc", lw=0.8)
ftext(431, 807, "STORM MOTION", color=GRAY, fontweight="bold")
sm_x = [541.7, 571.7, 608.3, 642.7, 681]
for lbl, xx in zip(motion_lbl, sm_x):
    ftext(xx, 807, lbl, ha="center", fontweight="bold")
ftext(436, 823.3, "speed", color=GRAY)
ftext(493, 823.3, "[m/s]", color=UNIT, fontsize=6.2, ha="center")
ftext(431, 838.3, "direction", color=GRAY)
ftext(493, 838.3, "[°]", color=UNIT, fontsize=6.2, ha="center")
for j, (xx, s, d) in enumerate(zip(sm_x, storm_speed, storm_dir)):
    fw = "bold" if j in (0, 2) else "normal"
    ftext(xx, 823.3, s, ha="center", fontweight=fw)
    ftext(xx, 838.3, d, ha="center", fontweight=fw)
for xx in [520, 556.7, 593.3, 626, 659.3]:
    fline(xx, 812, xx, 843, color="#dddddd", lw=0.8)

# composite block
ftext(713, 588, "COMPOSITE CONVECTIVE INDICES & OTHER VALUES", color=GRAY, fontweight="bold")
for (name, unit, val, yy, bold), ux in zip(comp_left, comp_left_unit_x):
    fw = "bold" if bold else "normal"
    ftext(711.5, yy, name, fontweight=fw, fontsize=7.4)
    ftext(ux, yy, unit, color=UNIT, fontsize=6.2)
    ftext(893, yy, val, ha="right", fontweight=fw)
for txt, yy in comp_left_heads:
    ftext(711.5, yy, txt, color=GRAY)
for yy in [665.7, 718.3, 772.3]:
    fline(708, yy, 899, yy, color="#cccccc", lw=0.8)
fline(901.7, 600, 901.7, 843, color="#cccccc", lw=0.8)
for name, unit, val, yy, ux in comp_right:
    ftext(906.7, yy, name)
    ftext(ux, yy, unit, color=UNIT, fontsize=6.2)
    ftext(1068.3, yy, val, ha="right")
for txt, yy in comp_right_heads:
    ftext(906.7, yy, txt, color=GRAY)
for yy in [671.7, 740]:
    fline(904, yy, 1072, yy, color="#cccccc", lw=0.8)

# Forchtgott block
ftext(1095.7, 588, "FORCHTGOTT 4V & MODIFs", color=GRAY, fontweight="bold")
for txt, yy in fgt_heads:
    ftext(1087.7, yy, txt, color=GRAY)
frect(1181, 635, 1221, 655, GREEN_BOX)
for name, unit, val, yy, bold in fgt_rows:
    ftext(1087.7, yy, name, fontweight="bold" if bold else "normal")
    ftext(1160 if unit != "[K]" else 1163, yy, unit, color=UNIT, fontsize=6.2)
    ftext(1210, yy, val, ha="right", color="#1f8a1f" if bold else "black")

fig.savefig("out.png", dpi=100, facecolor="white")
